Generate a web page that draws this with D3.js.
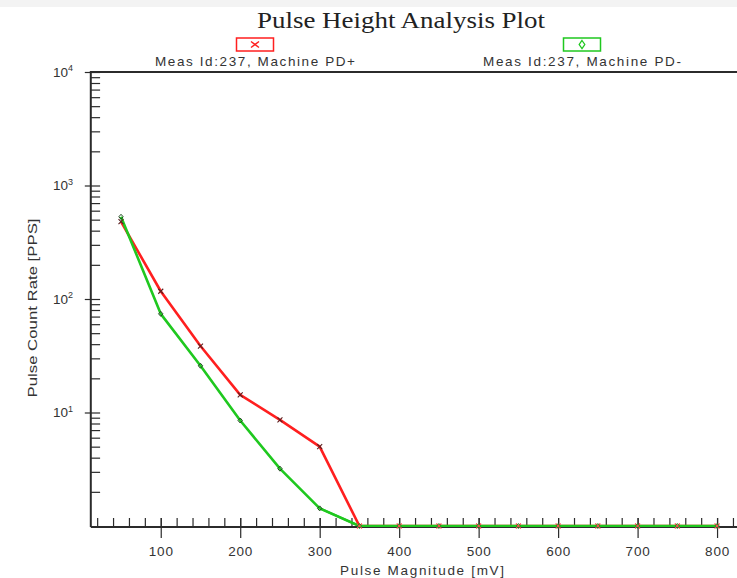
<!DOCTYPE html>
<html><head><meta charset="utf-8">
<script src="https://cdn.jsdelivr.net/npm/d3@7"></script>
<style>html,body{margin:0;padding:0;background:#fff;overflow:hidden}</style>
</head><body><svg id="c" width="737" height="578"></svg>
<script>
const magnitudes = [50,100,150,200,250,300,350,400,450,500,550,600,650,700,750,800];
const ratePDplus = [480,117,38.5,14.3,8.6,5.0,1,1,1,1,1,1,1,1,1,1];
const ratePDminus = [530,74,25.8,8.5,3.2,1.43,1,1,1,1,1,1,1,1,1,1];
const xTickLabels = [100,200,300,400,500,600,700,800];
const yMajorTicks = [1e1,1e2,1e3,1e4];
const yDecadeExp = ["1","2","3","4"];
const seriesNames = ["Meas Id:237, Machine PD+","Meas Id:237, Machine PD-"];
const seriesColors = ["#ff1f1f","#1fc81f"];
const titleText = "Pulse Height Analysis Plot";
const xTitle = "Pulse Magnitude [mV]";
const yTitle = "Pulse Count Rate [PPS]";

const svg = d3.select("#c");
const x = d3.scaleLinear().domain([12,850]).range([90.8,756.8]);
const y = d3.scaleLog().domain([1,1e4]).range([526,72]);
const X0 = x.range()[0], Y0 = y.range()[0], YT = y.range()[1];
const axisColor = "#2b2b2b";
const labelColor = "#333";
const sans = "'Liberation Sans',Arial,sans-serif";

// faint top band
svg.append("rect").attr("x",0).attr("y",0).attr("width",737).attr("height",7).attr("fill","#f3f3f3");

// Title
svg.append("text").attr("x",401).attr("y",28).attr("text-anchor","middle")
  .attr("font-family","'Liberation Serif','Times New Roman',serif").attr("font-size",23)
  .attr("fill","#222").attr("textLength",288).attr("lengthAdjust","spacingAndGlyphs").text(titleText);

// Legend
const legX = [255,582];
const legTextW = [200,198];
seriesNames.forEach((n,i)=>{
  const g = svg.append("g");
  g.append("rect").attr("x",legX[i]-18.5).attr("y",38).attr("width",37).attr("height",13)
    .attr("fill","#fff").attr("stroke",seriesColors[i]).attr("stroke-width",1.5);
  if(i===0){
    g.append("path").attr("d",`M${legX[i]-4},${41.5}L${legX[i]+4},${47.5}M${legX[i]+4},${41.5}L${legX[i]-4},${47.5}`)
      .attr("stroke",seriesColors[i]).attr("stroke-width",1.4);
  } else {
    g.append("path").attr("d",`M${legX[i]},${40.5}L${legX[i]+2.8},${44.5}L${legX[i]},${48.5}L${legX[i]-2.8},${44.5}Z`)
      .attr("fill","none").attr("stroke",seriesColors[i]).attr("stroke-width",1.3);
  }
  g.append("text").attr("x",legX[i]).attr("y",66).attr("text-anchor","middle")
    .attr("font-family",sans).attr("font-size",13.5)
    .attr("fill",labelColor).attr("textLength",legTextW[i]).attr("lengthAdjust","spacing").text(n);
});

// top frame line
svg.append("line").attr("x1",X0).attr("x2",737).attr("y1",YT).attr("y2",YT).attr("stroke",axisColor).attr("stroke-width",2);

// Y minor ticks (inside)
const yMinor = [];
for(let d=1; d<1e4; d*=10){ for(let k=2;k<=9;k++) yMinor.push(d*k); }
const gyMinor = svg.append("g").attr("transform",`translate(${X0},0)`)
  .call(d3.axisRight(y).tickValues(yMinor).tickSize(9.3).tickFormat(""));
const gyMajR = svg.append("g").attr("transform",`translate(${X0},0)`)
  .call(d3.axisRight(y).tickValues(yMajorTicks).tickSize(9.3).tickFormat(""));
const gyMajL = svg.append("g").attr("transform",`translate(${X0},0)`)
  .call(d3.axisLeft(y).tickValues(yMajorTicks).tickSize(6).tickFormat(""));
[gyMinor,gyMajR,gyMajL].forEach(g=>{g.select(".domain").remove(); g.selectAll("line").attr("stroke",axisColor).attr("stroke-width",1.2);});
// y labels with superscript
yMajorTicks.forEach((v,i)=>{
  const t = svg.append("text").attr("x",73).attr("y",y(v)+4.5).attr("text-anchor","end")
    .attr("font-family",sans).attr("font-size",13.5).attr("fill",labelColor);
  t.append("tspan").text("10");
  t.append("tspan").attr("dy",-5.5).attr("font-size",9).text(yDecadeExp[i]);
});

// X minor ticks (inside) every 20 mV
const xMinor = d3.range(20,860,20);
const gxMinor = svg.append("g").attr("transform",`translate(0,${Y0})`)
  .call(d3.axisTop(x).tickValues(xMinor).tickSize(8).tickFormat(""));
const gxMajUp = svg.append("g").attr("transform",`translate(0,${Y0})`)
  .call(d3.axisTop(x).tickValues(xTickLabels).tickSize(8).tickFormat(""));
const gxMaj = svg.append("g").attr("transform",`translate(0,${Y0})`)
  .call(d3.axisBottom(x).tickValues(xTickLabels).tickSize(12).tickPadding(8).tickFormat(d3.format("d")));
[gxMinor,gxMajUp,gxMaj].forEach(g=>{g.select(".domain").remove(); g.selectAll("line").attr("stroke",axisColor).attr("stroke-width",1.2);});
gxMaj.selectAll("text").attr("font-family",sans).attr("font-size",13.5)
  .attr("fill",labelColor).attr("letter-spacing","0.8px");

// Axis titles
svg.append("text").attr("x",422).attr("y",575).attr("text-anchor","middle")
  .attr("font-family",sans).attr("font-size",13.5).attr("fill",labelColor)
  .attr("textLength",164).attr("lengthAdjust","spacing").text(xTitle);
svg.append("text").attr("transform","translate(37,308) rotate(-90)").attr("text-anchor","middle")
  .attr("font-family",sans).attr("font-size",13.5).attr("fill",labelColor)
  .attr("textLength",179).attr("lengthAdjust","spacingAndGlyphs").text(yTitle);

// Series lines
const line = d3.line().x(d=>x(d[0])).y(d=>y(d[1]));
const dPlus = magnitudes.map((m,i)=>[m,ratePDplus[i]]);
const dMinus = magnitudes.map((m,i)=>[m,ratePDminus[i]]);
svg.append("path").datum(dPlus).attr("d",line).attr("fill","none").attr("stroke",seriesColors[0]).attr("stroke-width",2.6).attr("stroke-linejoin","round");
svg.append("path").datum(dMinus).attr("d",line).attr("fill","none").attr("stroke",seriesColors[1]).attr("stroke-width",2.6).attr("stroke-linejoin","round");

// Axis lines
svg.append("line").attr("x1",X0).attr("x2",X0).attr("y1",YT-1).attr("y2",Y0+1).attr("stroke",axisColor).attr("stroke-width",2);
svg.append("line").attr("x1",X0).attr("x2",737).attr("y1",Y0+1).attr("y2",Y0+1).attr("stroke",axisColor).attr("stroke-width",2);
svg.append("path").datum(dMinus.filter(d=>d[1]<=1.5)).attr("d",line).attr("fill","none").attr("stroke",seriesColors[1]).attr("stroke-width",2.2);

// Markers
svg.append("g").selectAll("path").data(dPlus).join("path")
  .attr("d",d=>{const cx=x(d[0]),cy=y(d[1]);return `M${cx-2.5},${cy-2.5}L${cx+2.5},${cy+2.5}M${cx+2.5},${cy-2.5}L${cx-2.5},${cy+2.5}`;})
  .attr("stroke",(d)=>d[1]>1?"#5a2020":"#ff4a4a").attr("stroke-width",1.1);
svg.append("g").selectAll("path").data(dMinus).join("path")
  .attr("d",d=>{const cx=x(d[0]),cy=y(d[1]);return `M${cx},${cy-2.5}L${cx+2.2},${cy}L${cx},${cy+2.5}L${cx-2.2},${cy}Z`;})
  .attr("fill","none").attr("stroke",(d)=>d[1]>1?"#1f4a1f":"#2a8a2a").attr("stroke-width",1);
</script></body></html>
